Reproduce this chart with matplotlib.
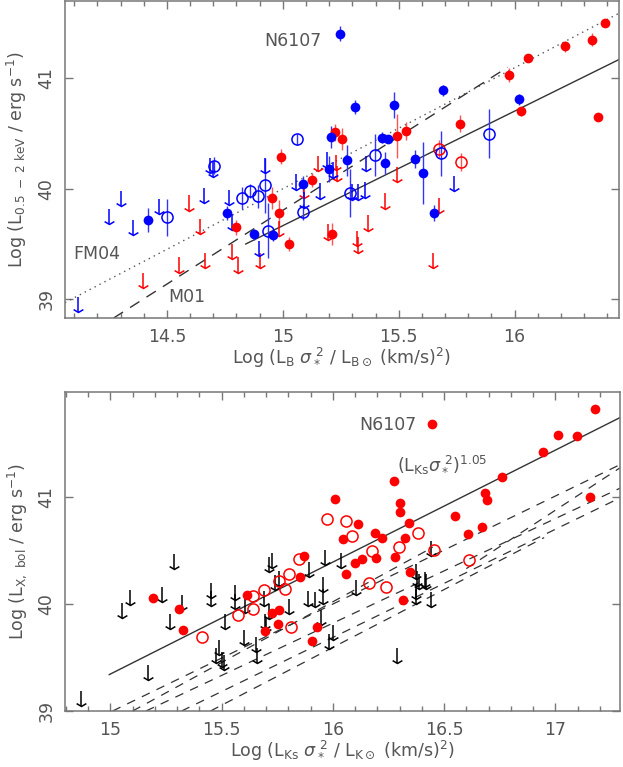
import matplotlib.pyplot as plt
import numpy as np
from matplotlib.path import Path
from matplotlib.ticker import MultipleLocator, FormatStrFormatter

# ---------------- top panel: L_B sigma^2 vs L(0.5-2 keV) ----------------
top_blue_fill_x = [15.247, 14.417, 14.761, 14.877, 14.958, 15.088, 15.208, 15.199, 15.276, 15.312,
                   15.481, 15.427, 15.452, 15.442, 15.570, 15.607, 15.651, 15.691, 16.020]
top_blue_fill_y = [41.405, 39.72, 39.78, 39.59, 39.58, 40.04, 40.47, 40.18, 40.26, 40.74,
                   40.76, 40.46, 40.45, 40.23, 40.27, 40.14, 39.78, 40.89, 40.81]
top_blue_fill_e = [0.07, 0.11, 0.06, 0.05, 0.05, 0.08, 0.10, 0.12, 0.14, 0.06,
                   0.12, 0.05, 0.03, 0.10, 0.08, 0.28, 0.07, 0.05, 0.05]

top_blue_open_x = [14.499, 14.703, 14.823, 14.857, 14.895, 14.922, 14.935, 15.061, 15.088, 15.290,
                   15.398, 15.684, 15.889]
top_blue_open_y = [39.74, 40.21, 39.92, 39.98, 39.93, 40.03, 39.62, 40.45, 39.79, 39.96,
                   40.31, 40.32, 40.50]
top_blue_open_e = [0.17, 0.08, 0.10, 0.06, 0.10, 0.25, 0.25, 0.05, 0.07, 0.22,
                   0.19, 0.20, 0.22]

top_blue_lim_x = [14.118, 14.251, 14.302, 14.355, 14.465, 14.659, 14.684, 14.700, 14.768, 14.782,
                  14.921, 14.897, 15.059, 15.092, 15.160, 15.189, 15.218, 15.297, 15.326, 15.355,
                  15.359, 15.740]
top_blue_lim_y = [39.02, 39.82, 39.98, 39.72, 39.91, 40.01, 40.28, 40.25, 39.99, 39.77,
                  40.28, 39.53, 40.13, 39.97, 40.05, 40.33, 40.24, 40.04, 40.04, 40.06,
                  40.30, 40.12]

top_red_fill_x = [14.994, 14.954, 14.983, 14.797, 15.027, 15.124, 15.225, 15.255, 15.212, 15.492,
                  15.531, 15.763, 15.977, 16.058, 16.027, 16.219, 16.335, 16.391, 16.358]
top_red_fill_y = [40.29, 39.92, 39.78, 39.65, 39.50, 40.08, 40.51, 40.45, 39.59, 40.48,
                  40.52, 40.59, 41.03, 41.18, 40.70, 41.29, 41.35, 41.50, 40.65]
top_red_fill_e = [0.07, 0.10, 0.12, 0.07, 0.06, 0.06, 0.08, 0.10, 0.10, 0.20,
                  0.08, 0.08, 0.06, 0.03, 0.04, 0.05, 0.06, 0.03, 0.02]

top_red_open_x = [15.672, 15.769]
top_red_open_y = [40.36, 40.24]
top_red_open_e = [0.08, 0.08]

top_red_lim_x = [14.398, 14.554, 14.594, 14.644, 14.665, 14.781, 14.807, 14.900, 14.983, 15.150,
                 15.092, 15.229, 15.196, 15.232, 15.492, 15.439, 15.367, 15.319, 15.326, 15.675,
                 15.646]
top_red_lim_y = [39.24, 39.38, 39.94, 39.73, 39.42, 39.50, 39.38, 39.42, 39.71, 40.30,
                 40.06, 40.31, 39.68, 40.21, 40.20, 39.96, 39.76, 39.62, 39.56, 39.92,
                 39.42]

# relations drawn in the top panel (end points)
fit_x, fit_y = [14.84, 16.47], [39.50, 41.19]
fm04_x, fm04_y = [14.06, 16.47], [38.97, 41.61]
m01_x, m01_y = [14.27, 15.97], [38.83, 41.10]

# ---------------- bottom panel: L_Ks sigma^2 vs L_X,bol ----------------
bot_fill_x = [15.193, 15.308, 15.326, 15.612, 15.726, 15.759, 15.752, 15.693, 15.871, 15.852,
              15.907, 15.931, 16.010, 16.046, 16.058, 16.446, 17.180, 17.013, 17.096, 16.944,
              16.762, 16.275, 16.302, 16.302, 16.343, 16.323, 16.278, 16.349, 16.314, 16.115,
              16.189, 16.223, 16.193, 16.130, 16.099, 16.548, 16.608, 16.670, 16.686, 16.693,
              17.158]
bot_fill_y = [40.06, 39.95, 39.76, 40.08, 39.92, 39.94, 39.81, 39.75, 40.45, 40.25,
              39.65, 39.78, 40.98, 40.61, 40.28, 41.68, 41.82, 41.58, 41.57, 41.42,
              41.19, 41.15, 40.94, 40.86, 40.76, 40.62, 40.44, 40.30, 40.04, 40.75,
              40.66, 40.62, 40.43, 40.42, 40.38, 40.82, 40.65, 40.72, 41.04, 40.97,
              41.00]

bot_open_x = [15.412, 15.575, 15.640, 15.640, 15.692, 15.759, 15.784, 15.801, 15.813, 15.849,
              15.974, 16.058, 16.084, 16.178, 16.296, 16.383, 16.163, 16.237, 16.455, 16.612]
bot_open_y = [39.69, 39.90, 39.95, 40.07, 40.13, 40.21, 40.14, 40.28, 39.78, 40.42,
              40.79, 40.77, 40.63, 40.49, 40.53, 40.66, 40.20, 40.16, 40.50, 40.41]

bot_lim_x = [14.868, 15.053, 15.087, 15.171, 15.233, 15.269, 15.287, 15.322, 15.451, 15.451,
             15.487, 15.475, 15.503, 15.510, 15.514, 15.560, 15.560, 15.603, 15.602, 15.653,
             15.660, 15.689, 15.694, 15.700, 15.713, 15.714, 15.725, 15.738, 15.756, 15.804,
             15.894, 15.889, 15.919, 15.954, 15.956, 15.949, 15.967, 15.999, 15.985, 16.036,
             16.106, 16.290, 16.373, 16.379, 16.388, 16.413, 16.420, 16.373, 16.373, 16.440,
             16.440]
bot_lim_y = [39.19, 40.01, 40.13, 39.43, 40.16, 39.91, 40.47, 40.08, 40.20, 40.12,
             39.66, 39.59, 39.55, 39.52, 39.91, 40.18, 40.09, 40.06, 39.76, 39.69,
             39.59, 40.12, 39.91, 39.88, 40.00, 40.44, 40.48, 40.27, 40.31, 40.05,
             40.39, 40.12, 40.11, 40.25, 40.14, 39.94, 40.50, 39.80, 39.72, 40.48,
             40.22, 39.59, 40.37, 40.31, 40.28, 40.30, 40.28, 40.19, 40.14, 40.59,
             40.11]

bfit_x, bfit_y = [14.995, 17.30], [39.34, 41.75]

# dashed model tracks (start x, start y, end x, end y)
trk_x0 = [15.01, 15.32, 15.16, 15.10, 15.45, 16.60]
trk_y0 = [39.00, 39.00, 39.00, 39.00, 39.00, 40.33]
trk_x1 = [17.28, 17.30, 17.30, 16.45, 16.95, 17.29]
trk_y1 = [41.29, 41.00, 41.09, 40.53, 40.62, 41.27]

RED = '#ff0000'
BLUE = '#0000ff'
TXT = '#555555'
ARROW = 0.14

head = Path([(-1, 0.6), (0, 0), (1, 0.6)], [Path.MOVETO, Path.LINETO, Path.LINETO])


def limits(ax, xs, ys, color):
    ys = np.array(ys)
    ax.vlines(xs, ys - ARROW, ys, color=color, lw=1.1)
    ax.plot(xs, ys - ARROW, ls='none', marker=head, ms=7, mfc='none', mec=color, mew=1.1)


def style(ax, xlim, ylim, xlabel, ylabel):
    ax.set_xlim(*xlim)
    ax.set_ylim(*ylim)
    ax.xaxis.set_major_locator(MultipleLocator(0.5))
    ax.xaxis.set_minor_locator(MultipleLocator(0.1))
    ax.xaxis.set_major_formatter(FormatStrFormatter('%g'))
    ax.yaxis.set_major_locator(MultipleLocator(1))
    ax.yaxis.set_major_formatter(FormatStrFormatter('%g'))
    ax.tick_params(which='both', direction='in', top=True, right=True, color='#777777',
                   labelcolor=TXT, labelsize=12.5)
    ax.tick_params(which='major', length=6, width=1)
    ax.tick_params(which='minor', length=3.5, width=1)
    ax.tick_params(axis='x', pad=7)
    ax.tick_params(axis='y', labelrotation=90, pad=7)
    for lab in ax.get_yticklabels():
        lab.set_va('center')
    for s in ax.spines.values():
        s.set_color('#777777')
        s.set_linewidth(1.1)
    ax.set_xlabel(xlabel, fontsize=12.5, color=TXT, labelpad=0)
    ax.set_ylabel(ylabel, fontsize=12.5, color=TXT, labelpad=6)


fig = plt.figure(figsize=(6.23, 7.67), dpi=100)
ax1 = fig.add_axes([0.1043, 0.5854, 0.889, 0.4133])
ax2 = fig.add_axes([0.1043, 0.073, 0.8906, 0.416])

# top panel
ax1.plot(fit_x, fit_y, color='#333333', lw=1)
ax1.plot(fm04_x, fm04_y, color='#555555', lw=1, ls=(0, (1, 3)))
ax1.plot(m01_x, m01_y, color='#333333', lw=1, ls=(0, (8, 6)))

ax1.errorbar(top_red_fill_x, top_red_fill_y, yerr=top_red_fill_e, fmt='none', ecolor='#ff5555', elinewidth=1)
ax1.errorbar(top_red_open_x, top_red_open_y, yerr=top_red_open_e, fmt='none', ecolor='#ff5555', elinewidth=1)
ax1.errorbar(top_blue_fill_x, top_blue_fill_y, yerr=top_blue_fill_e, fmt='none', ecolor='#3333ff', elinewidth=1)
ax1.errorbar(top_blue_open_x, top_blue_open_y, yerr=top_blue_open_e, fmt='none', ecolor='#3333ff', elinewidth=1)
limits(ax1, top_red_lim_x, top_red_lim_y, RED)
limits(ax1, top_blue_lim_x, top_blue_lim_y, BLUE)
ax1.plot(top_red_fill_x, top_red_fill_y, 'o', color=RED, ms=7, mec='none')
ax1.plot(top_red_open_x, top_red_open_y, 'o', mfc='none', mec=RED, ms=8, mew=1.1)
ax1.plot(top_blue_fill_x, top_blue_fill_y, 'o', color=BLUE, ms=7, mec='none')
ax1.plot(top_blue_open_x, top_blue_open_y, 'o', mfc='none', mec=BLUE, ms=8, mew=1.1)

ax1.text(15.045, 41.34, 'N6107', fontsize=12.5, color=TXT, ha='center', va='center')
ax1.text(14.197, 39.41, 'FM04', fontsize=12.5, color=TXT, ha='center', va='center')
ax1.text(14.587, 39.02, 'M01', fontsize=12.5, color=TXT, ha='center', va='center')

style(ax1, (14.06, 16.45), (38.83, 41.70),
      r'Log (L$_{\rm B}$ $\sigma_*^{\ 2}$ / L$_{\rm B\odot}$ (km/s)$^2$)',
      r'Log (L$_{\rm 0.5\ -\ 2\ keV}$ / erg s$^{-1}$)')

# bottom panel
ax2.plot(bfit_x, bfit_y, color='#333333', lw=1)
for x0, y0, x1, y1 in zip(trk_x0, trk_y0, trk_x1, trk_y1):
    ax2.plot([x0, x1], [y0, y1], color='#333333', lw=0.9, ls=(0, (7, 6)))
limits(ax2, bot_lim_x, bot_lim_y, 'black')
ax2.plot(bot_fill_x, bot_fill_y, 'o', color=RED, ms=7, mec='none')
ax2.plot(bot_open_x, bot_open_y, 'o', mfc='none', mec=RED, ms=8, mew=1.1)

ax2.text(16.377, 41.67, 'N6107', fontsize=12.5, color=TXT, ha='right', va='center')
ax2.text(16.29, 41.30, r'(L$_{\rm Ks}\sigma_*^{\ 2}$)$^{1.05}$', fontsize=12.5, color=TXT,
         ha='left', va='center')

style(ax2, (14.796, 17.29), (39.0, 41.98),
      r'Log (L$_{\rm Ks}$ $\sigma_*^{\ 2}$ / L$_{\rm K\odot}$ (km/s)$^2$)',
      r'Log (L$_{\rm X,\ bol}$ / erg s$^{-1}$)')

fig.savefig('out.png', dpi=100)
